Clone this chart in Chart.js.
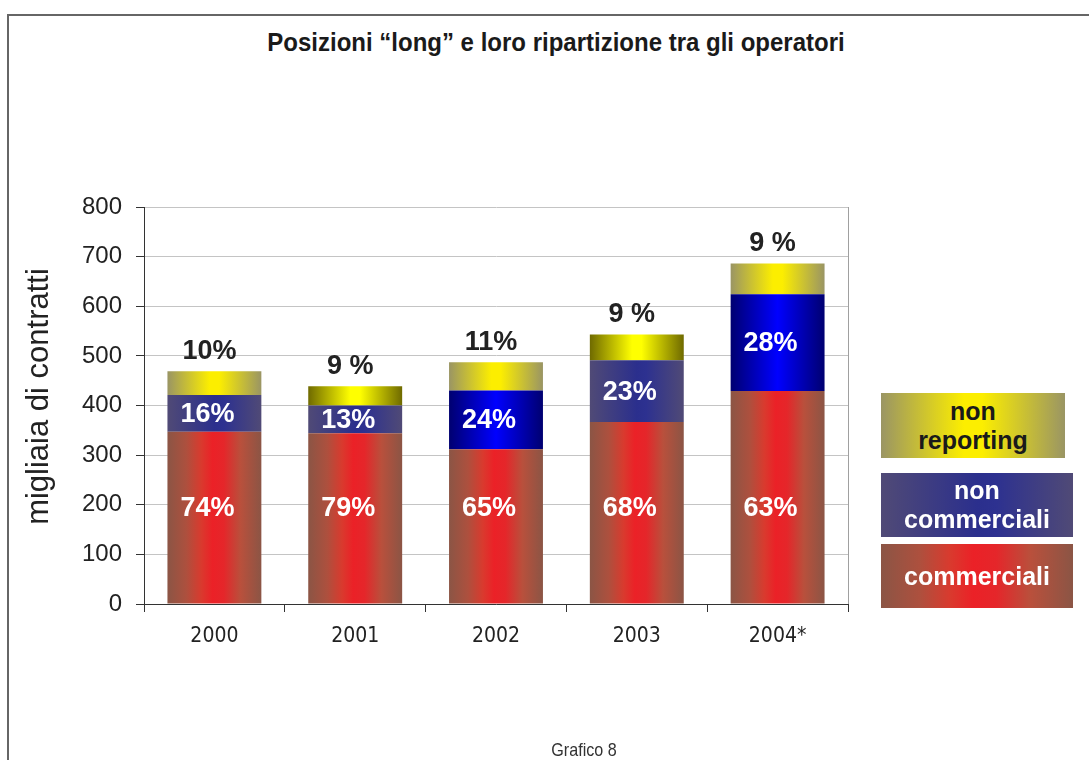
<!DOCTYPE html>
<html>
<head>
<meta charset="utf-8">
<script src="https://cdn.jsdelivr.net/npm/chart.js@4.4.1/dist/chart.umd.min.js"></script>
<style>
  body { margin: 0; background: #fff; }
  #page { position: relative; width: 1089px; height: 760px; overflow: hidden; font-family: "Liberation Sans", Arial, sans-serif; }
  #frame { position: absolute; left: 7px; top: 14px; right: -4px; bottom: -4px; border-top: 2px solid #666; border-left: 2px solid #666; }
  #chartBox { position: absolute; left: 0; top: 0; width: 1089px; height: 760px; }
  .title { position: absolute; left: 156px; width: 800px; text-align: center; top: 28px; font: bold 25px "Liberation Sans", Arial, sans-serif; color: #1a1a1a; transform: scaleX(0.96); transform-origin: 400px 0; }
  .footer { position: absolute; left: 484px; width: 200px; text-align: center; top: 739px; font: 19px "Liberation Sans", Arial, sans-serif; color: #333; transform: scaleX(0.85); transform-origin: 100px 0; }
  .leg { position: absolute; display: flex; align-items: center; justify-content: center; text-align: center; font-weight: bold; font-size: 25px; line-height: 29px; }
</style>
</head>
<body>
<div id="page">
  <div id="frame"></div>
  <div class="title">Posizioni “long” e loro ripartizione tra gli operatori</div>
  <div id="chartBox"><canvas id="longChart"></canvas></div>
  <div id="legend"></div>
  <div class="footer">Grafico 8</div>
</div>
<script>
const years = ['2000', '2001', '2002', '2003', '2004*'];
const commerciali = [347, 344, 312, 367, 429];
const nonCommerciali = [74, 56, 118, 124, 195];
const nonReporting = [48, 39, 57, 52, 62];
const pctComm = ['74%', '79%', '65%', '68%', '63%'];
const pctNonComm = ['16%', '13%', '24%', '23%', '28%'];
const pctNonRep = ['10%', '9 %', '11%', '9 %', '9 %'];
const seriesNames = ['commerciali', 'non commerciali', 'non reporting'];
const yTitle = 'migliaia di contratti';

// shading variant for each bar (the original mixes two fills)
const ncShade = ['soft', 'soft', 'bright', 'soft', 'bright'];
const nrShade = ['soft', 'dark', 'soft', 'dark', 'soft'];

const shades = {
  comm: [[0, '#8b5545'], [0.2, '#ad503e'], [0.36, '#d93a2e'], [0.48, '#eb2127'], [0.6, '#e5262a'], [0.78, '#b9503c'], [1, '#8b5545']],
  ncSoft: [[0, '#504a76'], [0.5, '#2b2f8d'], [0.6, '#2d3190'], [1, '#504a76']],
  ncBright: [[0, '#000070'], [0.5, '#0000ff'], [1, '#000070']],
  nrSoft: [[0, '#9a9564'], [0.45, '#fcee00'], [0.55, '#fcee00'], [1, '#9a9564']],
  nrDark: [[0, '#6f6a00'], [0.45, '#ffff00'], [0.55, '#ffff00'], [1, '#6f6a00']]
};

const barPct = 0.667;

function cssGradient(stops) {
  return 'linear-gradient(to right, ' + stops.map(s => s[1] + ' ' + (s[0] * 100) + '%').join(', ') + ')';
}

function fill(pick) {
  return ctx => {
    const chart = ctx.chart;
    if (!chart.chartArea || ctx.type !== 'data') return '#888';
    const xs = chart.scales.x;
    const c = xs.getPixelForValue(ctx.dataIndex);
    const half = xs.width / years.length * barPct / 2;
    const g = chart.ctx.createLinearGradient(c - half, 0, c + half, 0);
    shades[pick(ctx.dataIndex)].forEach(s => g.addColorStop(s[0], s[1]));
    return g;
  };
}

const labelPlugin = {
  id: 'barLabels',
  afterDatasetsDraw(chart) {
    const ctx = chart.ctx;
    const ys = chart.scales.y;
    ctx.save();
    ctx.textAlign = 'center';
    ctx.textBaseline = 'middle';
    ctx.font = 'bold 27px "Liberation Sans", Arial, sans-serif';
    chart.getDatasetMeta(0).data.forEach((bar, i) => {
      ctx.fillStyle = '#fff';
      ctx.fillText(pctComm[i], bar.x - 7, ys.getPixelForValue(193));
    });
    chart.getDatasetMeta(1).data.forEach((bar, i) => {
      ctx.fillStyle = '#fff';
      ctx.fillText(pctNonComm[i], bar.x - 7, (bar.y + bar.base) / 2 + 1);
    });
    chart.getDatasetMeta(2).data.forEach((bar, i) => {
      ctx.fillStyle = '#222';
      ctx.fillText(pctNonRep[i], bar.x - 5, bar.y - 20);
    });
    // right edge of the plot area
    const a = chart.chartArea;
    ctx.strokeStyle = '#a0a0a0';
    ctx.lineWidth = 1;
    ctx.beginPath();
    ctx.moveTo(a.right + 0.5, a.top);
    ctx.lineTo(a.right + 0.5, a.bottom);
    ctx.stroke();
    // y axis title, a bit above the middle of the axis like the original
    ctx.translate(39, (a.top + a.bottom) / 2 - 9);
    ctx.rotate(-Math.PI / 2);
    ctx.font = '31px "Liberation Sans", Arial, sans-serif';
    ctx.fillText(yTitle, 0, 0);
    ctx.restore();
  }
};

new Chart(document.getElementById('longChart'), {
  type: 'bar',
  data: {
    labels: years,
    datasets: [
      { label: seriesNames[0], data: commerciali, backgroundColor: fill(() => 'comm') },
      { label: seriesNames[1], data: nonCommerciali, backgroundColor: fill(i => ncShade[i] === 'bright' ? 'ncBright' : 'ncSoft') },
      { label: seriesNames[2], data: nonReporting, backgroundColor: fill(i => nrShade[i] === 'dark' ? 'nrDark' : 'nrSoft') }
    ]
  },
  options: {
    responsive: true,
    maintainAspectRatio: false,
    animation: false,
    barPercentage: barPct,
    categoryPercentage: 1,
    layout: { padding: { top: 207, right: 241, bottom: 0, left: 0 } },
    plugins: { legend: { display: false }, tooltip: { enabled: false } },
    scales: {
      x: {
        stacked: true,
        afterFit: s => { s.height = 156; },
        grid: { drawOnChartArea: false, tickLength: 8, color: '#333' },
        border: { color: '#333', width: 1 },
        ticks: { padding: 12, color: '#222', font: { family: '"DejaVu Sans Condensed", "Liberation Sans", sans-serif', size: 21 } }
      },
      y: {
        stacked: true,
        min: 0,
        max: 800,
        afterFit: s => { s.width = 144; },
        grid: { color: '#c4c4c4', tickColor: '#333', tickLength: 8 },
        border: { color: '#333', width: 1 },
        ticks: { stepSize: 100, padding: 14, color: '#222', font: { family: '"Liberation Sans", Arial, sans-serif', size: 24 } }
      }
    }
  },
  plugins: [labelPlugin]
});

// legend boxes on the right, top to bottom
const legendBoxes = [
  { name: 'non<br>reporting', shade: 'nrSoft', color: '#1a1a1a', left: 881, top: 393, width: 184, height: 65 },
  { name: 'non<br>commerciali', shade: 'ncSoft', color: '#fff', left: 881, top: 473, width: 192, height: 64 },
  { name: seriesNames[0], shade: 'comm', color: '#fff', left: 881, top: 544, width: 192, height: 64 }
];
const legend = document.getElementById('legend');
legendBoxes.forEach(b => {
  const d = document.createElement('div');
  d.className = 'leg';
  d.style.cssText = `left:${b.left}px;top:${b.top}px;width:${b.width}px;height:${b.height}px;color:${b.color};background:${cssGradient(shades[b.shade])};`;
  d.innerHTML = b.name;
  legend.appendChild(d);
});
</script>
</body>
</html>
